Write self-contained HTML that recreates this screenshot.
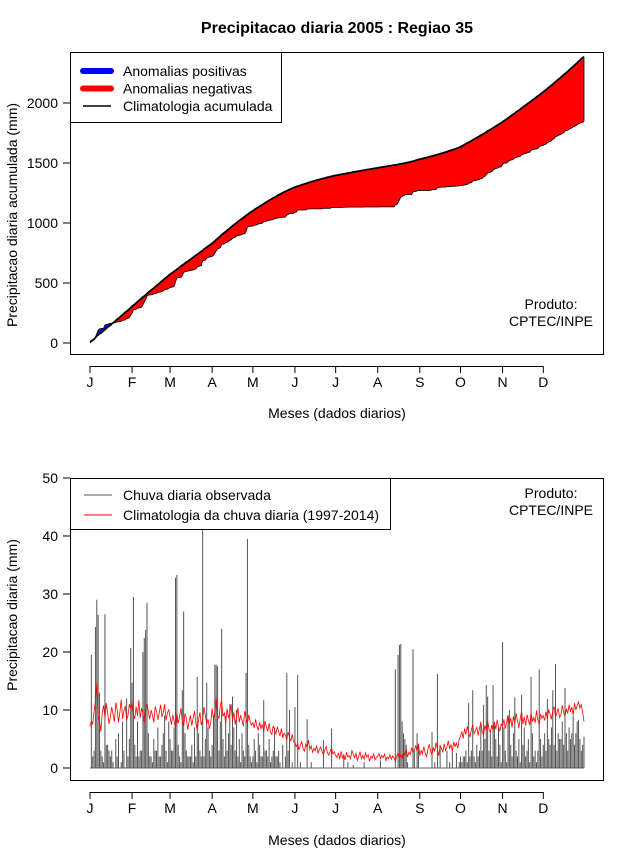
<!DOCTYPE html>
<html><head><meta charset="utf-8"><style>
body{margin:0;background:#fff;}
svg{display:block;font-family:"Liberation Sans",sans-serif;}
</style></head><body>
<svg id="c" width="640" height="850" viewBox="0 0 640 850">
<rect x="0" y="0" width="640" height="850" fill="#fff"/>
<text x="337" y="33" font-size="16" font-weight="bold" text-anchor="middle">Precipitacao diaria 2005 : Regiao 35</text>
<g id="topPanel"></g>
<g id="botPanel"></g>
</svg>
<script>
const monthLabels = ["J","F","M","A","M","J","J","A","S","O","N","D"];
const monthStartDays = [0,31,59,90,120,151,181,212,243,273,304,334];
const topTicks = [0,500,1000,1500,2000];
const botTicks = [0,10,20,30,40,50];
const obsJan = [0,19.5,2,3,24.3,29,26.4,13,3,2,1,26.5,4,4,3,2,3,1,0,5,2,6,0,1,8,3,0,12,2,5,20.7];
const obsFeb = [14.7,29.5,4,2,8,2,3,3,20,22.4,23.8,28.5,6,2,2,1,5,3,3,7,2,2,4,6,9,3,1,8];
const obsMar = [5,3,3,7,32.8,33.3,4,2,1,13.4,27,6,3,2,2,2,4,1,7,2,15.7,6,3,2,41,2,5,14.7,7,3,2];
const obsApr = [4,9,17.8,17.8,17.5,3,8,24,5,2,9,3,6,11,4,12.3,7,3,10,2,5,1,6,3,2,16.4,39.5,4,2,1];
const obsMay = [2,5,3,1,6,4,2,2,11.7,3,3,2,5,1,2,3,7,2,2,3,1,0,4,0,2,16.4,3,10,0,1,0];
const obsJun = [10.5,0,16,0,1,0,0,0,0,8.4,0,0,1,0,0,0,0,0,0,0,0,4.8,0,0,0,0,0,6.8,0,0];
const obsJul = [0,0,0,0,0,0,2,0,0,1,0,0,0,0.5,0,0,0,0,0,0,0,1,0,0,0,0,0,0,0,0,0];
const obsAug = [0,0,1.3,0,0,0,0,0,0,0,0,0,0,17,0,19.5,21.2,21.4,8,6,5,4,1,0,0,0,20.5,3,0,6,4];
const obsSep = [0,0,0,0,0,0,0,0,0,6.2,0,1,0,16.2,0,4,0,0,0,0,3,0,1,0,3,0,0,2.6,0,1];
const obsOct = [2,1,2,2,3,1,11.2,2,3,13.4,2,1,4,2,3,8,3,10.9,5,14.3,12.3,3,6,2,14.3,8,5,2,7,4,1];
const obsNov = [21.7,7,3,1,9,10,4,2,6,12.2,3,2,5,1,12.6,4,7,2,3,5,1,15.7,6,2,3,1,3,17,5,2];
const obsDec = [4,6,3,11.9,5,4,7,13.4,4,17.9,3,6,5,5,8,4,13.8,6,3,7,5,6,9,4,6,8,8.3,5,3,4,5.4];
const climJan = [7.2,8.1,7.5,9.8,11.5,14.6,9,8.2,6.3,9.5,10.8,8.7,11.2,9.4,7.6,8.8,10.5,9.2,8,11.3,10.1,7.9,9.6,11.8,8.5,9.9,10.7,8.3,9.1,11,10.2];
const climFeb = [11.4,9.2,8.5,10.6,9,11.7,8.6,10.3,9.4,7.8,10.5,11.2,9.7,8.4,10,9.1,7.9,10.6,9.8,8.3,9.5,10.9,8.8,9.6,11,8.2,9.4,10.1];
const climMar = [8.8,7.5,9.2,8,6.9,9.5,7.7,8.9,10.3,8.1,7.2,9.4,8.5,6.6,7.9,9.1,7.3,8.6,9.8,7.8,6.5,8.3,9.6,7.4,8.2,10.5,9,7.6,8.4,6.8,7.9];
const climApr = [10.3,8.4,9.7,12.1,9,8.6,10.8,11.6,8.9,9.5,7.8,10.2,8.7,9.3,11,8.1,9.6,7.5,8.8,10.4,7.9,9.1,8.3,7.2,9.8,8.5,7.6,9.2,8,7.4];
const climMay = [7.8,6.9,8.4,7.2,6.5,7.9,6.8,7.5,6.2,8.1,7,6.4,7.7,6.1,5.8,7.3,6.6,5.9,7.1,6.3,5.5,6.8,5.2,6,5.6,4.9,6.2,5.3,4.7,5.8,4.5];
const climJun = [4.4,3.7,4.2,3.1,3.9,4.6,3.3,2.9,4.1,3.5,4.8,3.2,3.8,2.7,3.4,3,3.9,2.5,3.2,3.6,2.8,2.3,3.1,3.7,2.6,2.2,2.9,3.4,2.4,2.8];
const climJul = [2.2,1.8,2.6,1.5,2.9,1.7,2.3,1.4,2.7,1.9,2.1,1.6,3,2.4,1.8,2.5,1.3,2,2.8,1.6,2.2,1.5,2.6,1.9,2.3,1.2,2,1.7,2.5,1.4,1.8];
const climAug = [2,2.5,1.6,2.2,1.8,2.4,1.3,1.9,1.6,2.3,1.5,2.1,1.7,1.2,2,2.6,1.8,2.3,1.5,2.8,2.1,3.2,1.9,2.7,2.3,3.5,2.6,3.1,3.8,2.9,4.2];
const climSep = [2.1,3,2.4,3.7,2.6,1.9,3.3,4.1,2.8,2.3,3.5,2.9,4.4,3.2,2.1,3.8,3.4,2.7,4.2,3,3.6,4.7,3.3,4,2.9,4.5,3.7,4.3,3.4,4.9];
const climOct = [5.5,6.3,5.1,6.8,5.8,7.2,6.1,5.4,6.6,7.5,5.9,6.4,7,5.6,6.9,7.8,6.2,5.7,7.3,6.5,8.1,6.8,6,7.4,6.4,7.9,6.7,8.3,7.1,6.3,7.6];
const climNov = [7.2,8.4,6.8,7.9,9.1,7.5,8.6,7,8.9,7.7,9.4,8.1,6.9,8.5,9.8,7.6,8.8,7.3,9.2,8.2,7.4,9.6,8,8.7,7.8,9.9,8.3,7.5,9.3,8.6];
const climDec = [9,8.2,9.7,8.6,10.1,9.3,8.4,9.9,10.6,8.8,9.5,10.3,8.7,9.2,10.8,9.6,8.9,10.2,9.4,10.9,9.7,10.5,9.1,11.2,10,10.8,11.4,10.3,11,9.6,8];

const obs = [].concat(obsJan,obsFeb,obsMar,obsApr,obsMay,obsJun,obsJul,obsAug,obsSep,obsOct,obsNov,obsDec);
const clim = [].concat(climJan,climFeb,climMar,climApr,climMay,climJun,climJul,climAug,climSep,climOct,climNov,climDec);
const NS='http://www.w3.org/2000/svg';
function mk(tag, attrs, parent, txt){const e=document.createElementNS(NS,tag);for(const k in attrs)e.setAttribute(k,attrs[k]);if(txt!==undefined)e.textContent=txt;parent.appendChild(e);return e;}
const xd = d => 90 + d*(494/364);
const yTop = v => 343 - v*0.12;
const yBot = v => 768 - v*5.8;
const topG = document.getElementById('topPanel');
const botG = document.getElementById('botPanel');

const cObs=[],cClim=[];let a=0,b=0;
for(let i=0;i<obs.length;i++){a+=obs[i];b+=clim[i];cObs.push(a);cClim.push(b);}
let redPts=[],bluePts=[];
for(let i=0;i<cObs.length;i++){redPts.push(xd(i)+','+yTop(Math.min(cObs[i],cClim[i])));bluePts.push(xd(i)+','+yTop(Math.max(cObs[i],cClim[i])));}
let climPts=[];for(let i=0;i<cClim.length;i++)climPts.push(xd(i)+','+yTop(cClim[i]));
let obsPts=[];for(let i=0;i<cObs.length;i++)obsPts.push(xd(i)+','+yTop(cObs[i]));
const redArea=mk('polygon',{points:climPts.join(' ')+' '+redPts.slice().reverse().join(' '),fill:'#ff0000',stroke:'none'},topG);


const blueArea=mk('polygon',{points:climPts.join(' ')+' '+bluePts.slice().reverse().join(' '),fill:'#0000ff',stroke:'none'},topG);


const lastI=cObs.length-1;
const endLine=mk('line',{x1:xd(lastI),x2:xd(lastI),y1:yTop(cObs[lastI]),y2:yTop(cClim[lastI]),stroke:'#000','stroke-width':0.8},topG);


const obsLine=mk('polyline',{points:obsPts.join(' '),fill:'none',stroke:'#000','stroke-width':0.8},topG);


const climLine=mk('polyline',{points:climPts.join(' '),fill:'none',stroke:'#000','stroke-width':1.8},topG);



function frame(g,y0,y1,ticks,yf,axisY,xlabelY,ylabel,ylabelY,name){
  const r=mk('rect',{x:70.5,y:y0+0.5,width:533,height:y1-y0,fill:'none',stroke:'#000','stroke-width':1},g);
  
  
  const ya=mk('line',{x1:70.5,x2:70.5,y1:yf(ticks[0]),y2:yf(ticks[ticks.length-1]),stroke:'#000'},g);
  
  
  ticks.forEach(t=>{
    const tl=mk('line',{x1:63,x2:70.5,y1:yf(t),y2:yf(t),stroke:'#000'},g);
    
    
    const tx=mk('text',{x:58,y:yf(t)+5,'font-size':14,'text-anchor':'end'},g,String(t));
    
    
  });
  const xa=mk('line',{x1:xd(monthStartDays[0]),x2:xd(monthStartDays[11]),y1:axisY+0.5,y2:axisY+0.5,stroke:'#000'},g);
  
  
  monthStartDays.forEach((d,i)=>{
    const tl=mk('line',{x1:xd(d),x2:xd(d),y1:axisY,y2:axisY+7,stroke:'#000'},g);
    
    
    const tx=mk('text',{x:xd(d),y:axisY+21,'font-size':14,'text-anchor':'middle'},g,monthLabels[i]);
    
    
  });
  const xl=mk('text',{x:337,y:xlabelY,'font-size':14,'text-anchor':'middle'},g,'Meses (dados diarios)');
  
  
  const yl=mk('text',{x:0,y:0,'font-size':14,'text-anchor':'middle',transform:'translate(17,'+ylabelY+') rotate(-90)'},g,ylabel);
  
  
}
frame(topG,52,354,topTicks,yTop,366,418,'Precipitacao diaria acumulada (mm)',215,'top');

const lg=mk('g',{},topG);


mk('rect',{x:70.5,y:52.5,width:211,height:70,fill:'#fff',stroke:'#000'},lg);
const le=[['#0000ff',6,'Anomalias positivas'],['#ff0000',6,'Anomalias negativas'],['#000',1.5,'Climatologia acumulada']];
le.forEach((e,i)=>{
  const y=71+i*17.5;
  const ln=mk('line',{x1:83,x2:111,y1:y,y2:y,stroke:e[0],'stroke-width':e[1],'stroke-linecap':e[1]>2?'round':'butt'},lg);
  
  
  const t=mk('text',{x:123,y:y+5,'font-size':14},lg,e[2]);
  
  
});
const p1=mk('text',{x:551,y:309,'font-size':14,'text-anchor':'middle'},topG,'Produto:');


const p2=mk('text',{x:551,y:326,'font-size':14,'text-anchor':'middle'},topG,'CPTEC/INPE');



frame(botG,478,780,botTicks,yBot,792,845,'Precipitacao diaria (mm)',615,'bottom');
const base=mk('line',{x1:xd(0),x2:xd(obs.length-1),y1:yBot(0),y2:yBot(0),stroke:'#666','stroke-width':1},botG);


obs.forEach((v,i)=>{
  if(v<=0)return;
  const l=mk('line',{x1:xd(i),x2:xd(i),y1:yBot(0),y2:yBot(Math.min(v,50)),stroke:'#555','stroke-width':1},botG);
  
  
});
let cp=[];clim.forEach((v,i)=>cp.push(xd(i)+','+yBot(v)));
const cl=mk('polyline',{points:cp.join(' '),fill:'none',stroke:'#ff0000','stroke-width':0.8},botG);


const lg2=mk('g',{},botG);


mk('rect',{x:70.5,y:478.5,width:320,height:51,fill:'#fff',stroke:'#000'},lg2);
[['#555','Chuva diaria observada'],['#ff0000','Climatologia da chuva diaria (1997-2014)']].forEach((e,i)=>{
  const y=495+i*20;
  const ln=mk('line',{x1:84,x2:112,y1:y,y2:y,stroke:e[0],'stroke-width':1},lg2);
  
  
  const t=mk('text',{x:123,y:y+5,'font-size':14},lg2,e[1]);
  
  
});
const p3=mk('text',{x:551,y:498,'font-size':14,'text-anchor':'middle'},botG,'Produto:');


const p4=mk('text',{x:551,y:515,'font-size':14,'text-anchor':'middle'},botG,'CPTEC/INPE');


</script>
</body></html>
